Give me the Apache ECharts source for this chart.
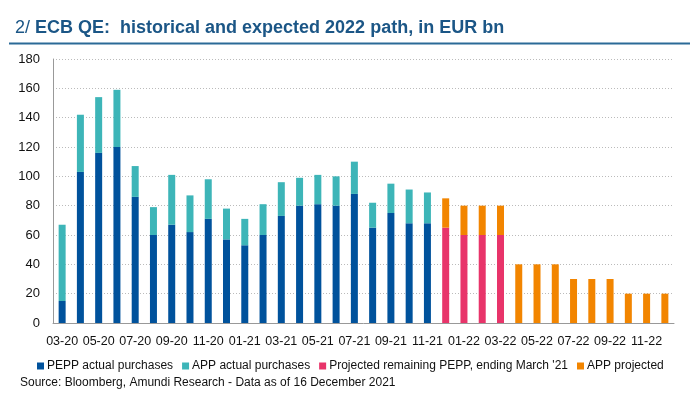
<!DOCTYPE html>
<html><head><meta charset="utf-8">
<script src="https://cdn.jsdelivr.net/npm/echarts@6/dist/echarts.min.js"></script>
<style>html,body{margin:0;padding:0;background:#fff}#c{width:700px;height:402px}</style>
</head><body><div id="c"></div>
<script>
var categories = ['03-20','04-20','05-20','06-20','07-20','08-20','09-20','10-20','11-20','12-20',
  '01-21','02-21','03-21','04-21','05-21','06-21','07-21','08-21','09-21','10-21','11-21','12-21',
  '01-22','02-22','03-22','04-22','05-22','06-22','07-22','08-22','09-22','10-22','11-22','12-22'];
var peppActual = [15,103,116,120,86,60,67,62,71,57,53,60,73,80,81,80,88,65,75,68,68];
var appActual  = [52,39,38,39,21,19,34,25,27,21,18,21,23,19,20,20,22,17,20,23,21];
var peppProjected = [65,60,60,60];
var appProjected  = [20,20,20,20,40,40,40,30,30,30,20,20,20];
var yTicks = [0,20,40,60,80,100,120,140,160,180];

var nActual = peppActual.length;
function pad(arr, offset){
  var out = [];
  for (var i = 0; i < categories.length; i++){
    var j = i - offset;
    out.push(j >= 0 && j < arr.length ? arr[j] : '-');
  }
  return out;
}
var FONT = 'Liberation Sans, Arial, sans-serif';
var chart = echarts.init(document.getElementById('c'), null, {renderer:'canvas'});
chart.setOption({
  animation:false,
  title:{
    text:'{a|2/ }{b|ECB QE:  historical and expected 2022 path, in EUR bn}',
    left:10, top:14,
    textStyle:{rich:{
      a:{fontFamily:FONT, fontSize:18, fontWeight:'normal', color:'#1b5686'},
      b:{fontFamily:FONT, fontSize:18, fontWeight:'bold', color:'#1b5686'}
    }}
  },
  graphic:[
    {type:'line', shape:{x1:9,y1:43.5,x2:690,y2:43.5}, style:{stroke:'#2b6a97', lineWidth:2}},
    {type:'text', left:20, top:377, style:{text:'Source: Bloomberg, Amundi Research - Data as of 16 December 2021', font:'12px '+FONT, fill:'#111'}}
  ],
  legend:{
    left:32, top:355, itemWidth:7, itemHeight:7, itemGap:9, icon:'rect',
    textStyle:{fontFamily:FONT, fontSize:12, color:'#111', padding:[0,0,0,-2]},
    data:['PEPP actual purchases','APP actual purchases','Projected remaining PEPP, ending March \'21','APP projected']
  },
  grid:{left:53, right:26, top:59, bottom:79},
  xAxis:{
    type:'category', data:categories, boundaryGap:true,
    axisLine:{lineStyle:{color:'#999', width:1}},
    axisTick:{interval:1, length:5, lineStyle:{color:'#999'}},
    axisLabel:{interval:1, fontFamily:FONT, fontSize:12.5, color:'#111', margin:12}
  },
  yAxis:{
    type:'value', min:0, max:180, interval:20,
    axisLine:{show:true, lineStyle:{color:'#999'}},
    axisTick:{show:false},
    axisLabel:{fontFamily:FONT, fontSize:13, color:'#111', margin:13,
      formatter:function(v){ return yTicks.indexOf(v) >= 0 ? String(v) : ''; }},
    splitLine:{lineStyle:{color:'#bbb', type:[1,2], width:1}}
  },
  series:[
    {name:'PEPP actual purchases', type:'bar', stack:'s', barWidth:7, data:pad(peppActual,0), itemStyle:{color:'#00529c'}},
    {name:'APP actual purchases', type:'bar', stack:'s', barWidth:7, data:pad(appActual,0), itemStyle:{color:'#3db5b8'}},
    {name:'Projected remaining PEPP, ending March \'21', type:'bar', stack:'s', barWidth:7, data:pad(peppProjected,nActual), itemStyle:{color:'#e8346a'}},
    {name:'APP projected', type:'bar', stack:'s', barWidth:7, data:pad(appProjected,nActual), itemStyle:{color:'#f28500'}}
  ]
});
</script></body></html>
